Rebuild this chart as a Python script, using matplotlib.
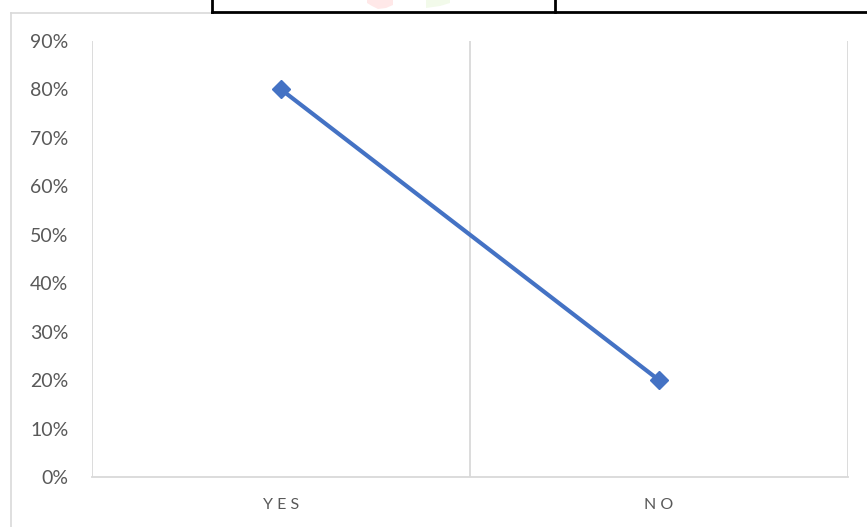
import matplotlib.pyplot as plt
from matplotlib.lines import Line2D
from matplotlib.patches import Polygon
import numpy as np

categories = ["Y E S", "N O"]
values = [0.80, 0.20]
yticks = [0, 0.1, 0.2, 0.3, 0.4, 0.5, 0.6, 0.7, 0.8, 0.9]
ytick_labels = ["0%", "10%", "20%", "30%", "40%", "50%", "60%", "70%", "80%", "90%"]

W, H = 867, 527
fig = plt.figure(figsize=(W / 100, H / 100), dpi=100)
plt.rcParams['font.family'] = ['Lato', 'DejaVu Sans']

left, right, top, bottom = 92, 848, 41, 477
ax = fig.add_axes([left / W, 1 - bottom / H, (right - left) / W, (bottom - top) / H])

x = np.arange(len(categories)) + 0.5
ax.plot(x, values, color="#4472C4", linewidth=3.0, marker="D", markersize=9,
        markerfacecolor="#4472C4", markeredgecolor="#4472C4", zorder=3)

ax.set_xlim(0, len(categories))
ax.set_ylim(0, 0.9)
ax.set_yticks(yticks)
ax.set_yticklabels(ytick_labels)
ax.set_xticks(x)
ax.set_xticklabels(categories)

grid_c = "#D9D9D9"
for b in range(len(categories) + 1):
    ax.axvline(b, color=grid_c, linewidth=1.3, zorder=1)
for s in ["top", "right", "left"]:
    ax.spines[s].set_visible(False)
ax.spines["bottom"].set_color(grid_c)
ax.spines["bottom"].set_linewidth(1.3)

ax.tick_params(axis="y", length=0, pad=17, labelsize=14, labelcolor="#595959")
ax.tick_params(axis="x", length=0, pad=15, labelsize=11.5, labelcolor="#595959")

# outer chart frame (light gray)
fig.add_artist(Line2D([11 / W, 11 / W], [0, 1 - 13 / H], transform=fig.transFigure,
                      color=grid_c, linewidth=1.2))
fig.add_artist(Line2D([11 / W, 212 / W], [1 - 13 / H, 1 - 13 / H], transform=fig.transFigure,
                      color=grid_c, linewidth=1.2))

# table border fragment at top
blk = "black"
fig.add_artist(Line2D([212 / W, 1], [1 - 12 / H, 1 - 12 / H], transform=fig.transFigure,
                      color=blk, linewidth=2))
fig.add_artist(Line2D([212 / W, 212 / W], [1 - 12 / H, 1], transform=fig.transFigure,
                      color=blk, linewidth=2))
fig.add_artist(Line2D([555 / W, 555 / W], [1 - 12 / H, 1], transform=fig.transFigure,
                      color=blk, linewidth=2))

# faint watermark fragments
def px(pts):
    return [(a / W, 1 - b / H) for a, b in pts]
fig.add_artist(Polygon(px([(367, 0), (393, 0), (393, 5), (386, 8), (378, 9), (372, 6), (367, 3)]),
                       closed=True, transform=fig.transFigure, facecolor="#FFE8E8", edgecolor="none"))
fig.add_artist(Polygon(px([(426, 0), (450, 0), (450, 3), (440, 6), (426, 8)]),
                       closed=True, transform=fig.transFigure, facecolor="#F2FAEA", edgecolor="none"))

fig.savefig("out.png", dpi=100)
